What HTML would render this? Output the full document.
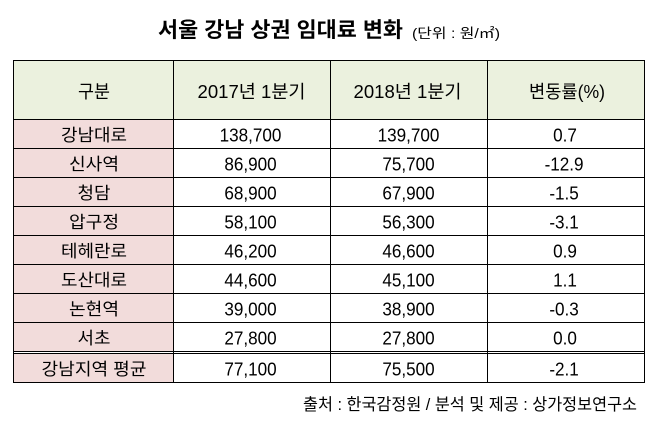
<!DOCTYPE html>
<html>
<head>
<meta charset="utf-8">
<style>
html,body{margin:0;padding:0;background:#fff;}
svg{display:block;}
text{font-family:"Liberation Sans","Noto Sans CJK KR",sans-serif;fill:#000;}
</style>
</head>
<body>
<svg width="657" height="435" viewBox="0 0 657 435" xmlns="http://www.w3.org/2000/svg">
  <rect x="0" y="0" width="657" height="435" fill="#fff"/>
  <!-- Title -->
  <text x="158" y="37" font-size="21" font-weight="bold" textLength="245" lengthAdjust="spacingAndGlyphs">서울 강남 상권 임대료 변화</text>
  <text x="412" y="38" font-size="13.5" textLength="88" lengthAdjust="spacingAndGlyphs">(단위 : 원/㎡)</text>

  <!-- fills -->
  <rect x="13.5" y="60.5" width="631" height="59" fill="#ebf1de"/>
  <rect x="13.5" y="119.5" width="160" height="232" fill="#f2dcdb"/>
  <rect x="13.5" y="353.5" width="160" height="29" fill="#f2dcdb"/>

  <!-- grid lines -->
  <g stroke="#000" stroke-width="1" shape-rendering="crispEdges" fill="none">
    <rect x="13.5" y="60.5" width="631" height="322"/>
    <line x1="173.5" y1="60.5" x2="173.5" y2="382.5"/>
    <line x1="330.5" y1="60.5" x2="330.5" y2="382.5"/>
    <line x1="487.5" y1="60.5" x2="487.5" y2="382.5"/>
    <line x1="13.5" y1="119.5" x2="644.5" y2="119.5"/>
    <line x1="13.5" y1="148.5" x2="644.5" y2="148.5"/>
    <line x1="13.5" y1="177.5" x2="644.5" y2="177.5"/>
    <line x1="13.5" y1="206.5" x2="644.5" y2="206.5"/>
    <line x1="13.5" y1="235.5" x2="644.5" y2="235.5"/>
    <line x1="13.5" y1="264.5" x2="644.5" y2="264.5"/>
    <line x1="13.5" y1="293.5" x2="644.5" y2="293.5"/>
    <line x1="13.5" y1="322.5" x2="644.5" y2="322.5"/>
    <line x1="13.5" y1="351.5" x2="644.5" y2="351.5"/>
    <line x1="13.5" y1="353.5" x2="644.5" y2="353.5"/>
  </g>
  <rect x="14" y="352" width="159" height="1" fill="#fff"/>
  <rect x="174" y="352" width="156" height="1" fill="#fff"/>
  <rect x="331" y="352" width="156" height="1" fill="#fff"/>
  <rect x="488" y="352" width="156" height="1" fill="#fff"/>

  <!-- header -->
  <g font-size="18" text-anchor="middle">
    <text x="94" y="98" textLength="32" lengthAdjust="spacingAndGlyphs">구분</text>
    <text x="251.5" y="98" textLength="108" lengthAdjust="spacingAndGlyphs">2017년 1분기</text>
    <text x="407.5" y="98" textLength="108" lengthAdjust="spacingAndGlyphs">2018년 1분기</text>
    <text x="567" y="98" textLength="76" lengthAdjust="spacingAndGlyphs">변동률(%)</text>
  </g>

  <!-- body: names -->
  <g font-size="17" text-anchor="middle">
    <text x="94" y="141" textLength="66" lengthAdjust="spacingAndGlyphs">강남대로</text>
    <text x="94" y="170" textLength="50" lengthAdjust="spacingAndGlyphs">신사역</text>
    <text x="94" y="199" textLength="33" lengthAdjust="spacingAndGlyphs">청담</text>
    <text x="94" y="228" textLength="50" lengthAdjust="spacingAndGlyphs">압구정</text>
    <text x="94" y="257" textLength="66" lengthAdjust="spacingAndGlyphs">테헤란로</text>
    <text x="94" y="286" textLength="66" lengthAdjust="spacingAndGlyphs">도산대로</text>
    <text x="94" y="315" textLength="50" lengthAdjust="spacingAndGlyphs">논현역</text>
    <text x="94" y="344" textLength="33" lengthAdjust="spacingAndGlyphs">서초</text>
    <text x="94" y="375" textLength="105" lengthAdjust="spacingAndGlyphs">강남지역 평균</text>
  </g>

  <!-- body: numbers (slightly condensed) -->
  <g font-size="18.5" text-anchor="middle" transform="translate(250.5 0) scale(0.925 1)">
    <text x="0" y="141.5">138,700</text>
    <text x="0" y="170.5">86,900</text>
    <text x="0" y="199.5">68,900</text>
    <text x="0" y="228.5">58,100</text>
    <text x="0" y="257.5">46,200</text>
    <text x="0" y="286.5">44,600</text>
    <text x="0" y="315.5">39,000</text>
    <text x="0" y="344.5">27,800</text>
    <text x="0" y="375.5">77,100</text>
  </g>
  <g font-size="18.5" text-anchor="middle" transform="translate(408.5 0) scale(0.925 1)">
    <text x="0" y="141.5">139,700</text>
    <text x="0" y="170.5">75,700</text>
    <text x="0" y="199.5">67,900</text>
    <text x="0" y="228.5">56,300</text>
    <text x="0" y="257.5">46,600</text>
    <text x="0" y="286.5">45,100</text>
    <text x="0" y="315.5">38,900</text>
    <text x="0" y="344.5">27,800</text>
    <text x="0" y="375.5">75,500</text>
  </g>
  <g font-size="18.5" text-anchor="middle" transform="translate(565 0) scale(0.925 1)">
    <text x="0" y="141.5">0.7</text>
    <text x="-1" y="170.5">-12.9</text>
    <text x="-1" y="199.5">-1.5</text>
    <text x="-1" y="228.5">-3.1</text>
    <text x="0" y="257.5">0.9</text>
    <text x="0" y="286.5">1.1</text>
    <text x="-1" y="315.5">-0.3</text>
    <text x="0" y="344.5">0.0</text>
    <text x="-1" y="375.5">-2.1</text>
  </g>

  <!-- footer -->
  <text x="303" y="410" font-size="16.5" textLength="334" lengthAdjust="spacingAndGlyphs" fill="#111">출처 : 한국감정원 / 분석 및 제공 : 상가정보연구소</text>
</svg>
</body>
</html>
